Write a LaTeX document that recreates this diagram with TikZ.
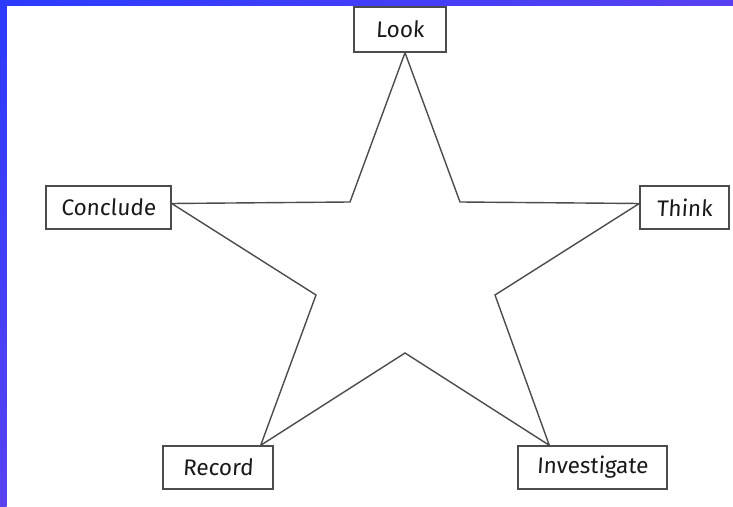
\documentclass[tikz,border=0pt]{standalone}
\usepackage{fontspec}
\newfontfamily\labfont[FakeSlant=0.06]{Fira Sans}
\begin{document}
\begin{tikzpicture}[x=1pt,y=1pt,
  lab/.style={draw=black!70, line width=1.4pt, fill=white, inner sep=0pt,
    font=\labfont\fontsize{22.5}{26}\selectfont, text=black!90},
  starline/.style={draw=black!70, line width=1.4pt, line join=miter}]
\useasboundingbox (0,0) rectangle (733,506);
\fill[white] (0,0) rectangle (733,506);
% blue frame
\shade[top color={rgb,255:red,43;green,59;blue,255}, bottom color={rgb,255:red,88;green,66;blue,240}] (0,0) rectangle (6.5,506);
\shade[left color={rgb,255:red,43;green,59;blue,255}, right color={rgb,255:red,88;green,64;blue,240}] (0,500.5) rectangle (733,506);
% boxes (centres from the reference, y up)
\node[lab, minimum width=92, minimum height=45] (look) at (400,476.5) {Look};
\node[lab, minimum width=125, minimum height=43] (conclude) at (108.5,298.5) {Conclude};
\node[lab, minimum width=89, minimum height=43] (think) at (684.5,298.5) {Think};
\node[lab, minimum width=110, minimum height=43] (record) at (218,38.5) {Record};
\node[lab, minimum width=149, minimum height=43] (investigate) at (592.5,38.5) {Investigate};
% inner vertices of the star
\coordinate (iul) at (350,304);
\coordinate (iur) at (460,304);
\coordinate (il) at (316,211);
\coordinate (ir) at (495,211);
\coordinate (ib) at (405,153);
\draw[starline] ([xshift=5]look.south) -- (iur) -- ([yshift=4]think.west) -- (ir)
  -- ([xshift=32]investigate.north west) -- (ib) -- ([xshift=-13]record.north east)
  -- (il) -- ([yshift=4]conclude.east) -- (iul) -- cycle;
\end{tikzpicture}
\end{document}
